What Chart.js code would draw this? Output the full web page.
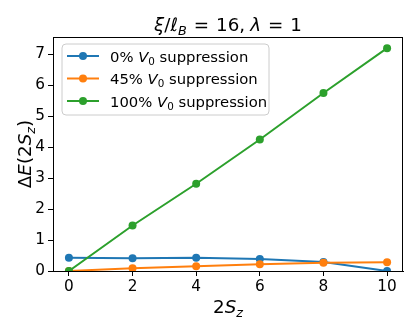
<!DOCTYPE html>
<html>
<head>
<meta charset="utf-8">
<script src="https://cdn.jsdelivr.net/npm/chart.js@4"></script>
<style>
  html, body { margin: 0; padding: 0; background: #fff; }
  #wrap { width: 415px; height: 332px; }
</style>
</head>
<body>
<div id="wrap"><canvas id="spinChart"></canvas></div>
<script>
// data
const sz2 = [0, 2, 4, 6, 8, 10];
const supp0 = [0.43, 0.41, 0.43, 0.39, 0.29, 0.0];
const supp45 = [0.0, 0.09, 0.15, 0.22, 0.27, 0.28];
const supp100 = [0.0, 1.47, 2.82, 4.25, 5.75, 7.2];
const seriesNames = ['0%', '45%', '100%'];
const xTicks = [0, 2, 4, 6, 8, 10];
const yTicks = [0, 1, 2, 3, 4, 5, 6, 7];

const colors = ['#1f77b4', '#ff7f0e', '#2ca02c'];
const FONT = '"DejaVu Sans", sans-serif';
const TICK_SIZE = 15.3;
const LEGEND_SIZE = 14.8;
const LABEL_SIZE = 18.3;

function pts(ys) {
    return sz2.map((x, i) => ({ x: x, y: ys[i] }));
}

// draw a run of text pieces: {t, it (italic), sub} or {gap: px}
function drawMath(c, parts, x, y, size, align) {
    const widths = parts.map(p => {
        if (p.gap) return p.gap;
        const s = p.sub ? size * 0.7 : size;
        c.font = (p.it ? 'italic ' : '') + s + 'px ' + FONT;
        return c.measureText(p.t).width;
    });
    const total = widths.reduce((a, b) => a + b, 0);
    let cx = align === 'center' ? x - total / 2 : x;
    parts.forEach((p, i) => {
        if (!p.gap) {
            const s = p.sub ? size * 0.7 : size;
            c.font = (p.it ? 'italic ' : '') + s + 'px ' + FONT;
            c.fillText(p.t, cx, p.sub ? y + size * 0.22 : y);
        }
        cx += widths[i];
    });
    return total;
}

const decorations = {
    id: 'decorations',
    afterDraw(chart) {
        const c = chart.ctx;
        const a = chart.chartArea;
        c.save();
        // frame
        c.strokeStyle = '#000';
        c.lineWidth = 1;
        c.strokeRect(Math.round(a.left) + 0.5, Math.round(a.top) + 0.5,
            Math.round(a.right - a.left) - 1, Math.round(a.bottom - a.top));
        c.fillStyle = '#000';
        c.textBaseline = 'alphabetic';
        // title
        drawMath(c, [
            { t: 'ξ', it: true }, { t: '/' }, { t: 'ℓ', it: true }, { t: 'B', it: true, sub: true },
            { gap: 7 }, { t: '=' }, { gap: 7 }, { t: '16,' }, { gap: 5 }, { t: 'λ', it: true },
            { gap: 7 }, { t: '=' }, { gap: 7 }, { t: '1' }
        ], (a.left + a.right) / 2, 31, LABEL_SIZE, 'center');
        // x label
        drawMath(c, [{ t: '2' }, { t: 'S', it: true }, { t: 'z', it: true, sub: true }],
            (a.left + a.right) / 2, 313, LABEL_SIZE, 'center');
        // y label
        c.save();
        c.translate(31, (a.top + a.bottom) / 2);
        c.rotate(-Math.PI / 2);
        drawMath(c, [{ t: 'Δ' }, { t: 'E', it: true }, { t: '(2' }, { t: 'S', it: true },
            { t: 'z', it: true, sub: true }, { t: ')' }], 0, 0, LABEL_SIZE, 'center');
        c.restore();

        // legend
        const lx = 62, ly = 44, lw = 207, lh = 71, r = 4;
        c.beginPath();
        c.moveTo(lx + r, ly);
        c.arcTo(lx + lw, ly, lx + lw, ly + lh, r);
        c.arcTo(lx + lw, ly + lh, lx, ly + lh, r);
        c.arcTo(lx, ly + lh, lx, ly, r);
        c.arcTo(lx, ly, lx + lw, ly, r);
        c.closePath();
        c.fillStyle = 'rgba(255,255,255,0.8)';
        c.fill();
        c.strokeStyle = '#cccccc';
        c.lineWidth = 1;
        c.stroke();
        seriesNames.forEach((name, i) => {
            const yy = 56 + i * 22.5;
            c.strokeStyle = colors[i];
            c.lineWidth = 2;
            c.beginPath();
            c.moveTo(67, yy);
            c.lineTo(99, yy);
            c.stroke();
            c.fillStyle = colors[i];
            c.beginPath();
            c.arc(83, yy, 4, 0, Math.PI * 2);
            c.fill();
            c.fillStyle = '#000';
            drawMath(c, [{ t: name + ' ' }, { t: 'V', it: true }, { t: '0', sub: true },
                { t: ' suppression' }], 110, yy + 5.5, LEGEND_SIZE, 'left');
        });
        c.restore();
    }
};

const ds = [supp0, supp45, supp100].map((vals, i) => ({
    label: seriesNames[i] + ' V0 suppression',
    data: pts(vals),
    borderColor: colors[i],
    backgroundColor: colors[i],
    borderWidth: 2,
    pointRadius: 4,
    pointBorderWidth: 0,
    pointHoverRadius: 4,
    order: 2 - i,
    tension: 0
}));

new Chart(document.getElementById('spinChart'), {
    type: 'line',
    data: { datasets: ds },
    options: {
        responsive: true,
        maintainAspectRatio: false,
        animation: false,
        events: [],
        layout: { padding: { top: 37, right: 12, left: 0, bottom: 0 } },
        plugins: { legend: { display: false }, title: { display: false }, tooltip: { enabled: false } },
        scales: {
            x: {
                type: 'linear',
                min: -0.5,
                max: 10.5,
                afterBuildTicks: s => { s.ticks = xTicks.map(v => ({ value: v })); },
                afterFit: s => { s.height = 61; },
                grid: { drawOnChartArea: false, color: '#000', tickLength: 5, tickWidth: 1 },
                border: { display: true, color: '#000', width: 1 },
                ticks: { color: '#000', font: { family: FONT, size: TICK_SIZE }, padding: 2, maxRotation: 0 }
            },
            y: {
                type: 'linear',
                min: 0,
                max: 7.56,
                afterBuildTicks: s => { s.ticks = yTicks.map(v => ({ value: v })); },
                afterFit: s => { s.width = 53; },
                grid: { drawOnChartArea: false, color: '#000', tickLength: 5, tickWidth: 1 },
                border: { display: true, color: '#000', width: 1 },
                ticks: { color: '#000', font: { family: FONT, size: TICK_SIZE }, padding: 3 }
            }
        }
    },
    plugins: [decorations]
});
</script>
</body>
</html>
